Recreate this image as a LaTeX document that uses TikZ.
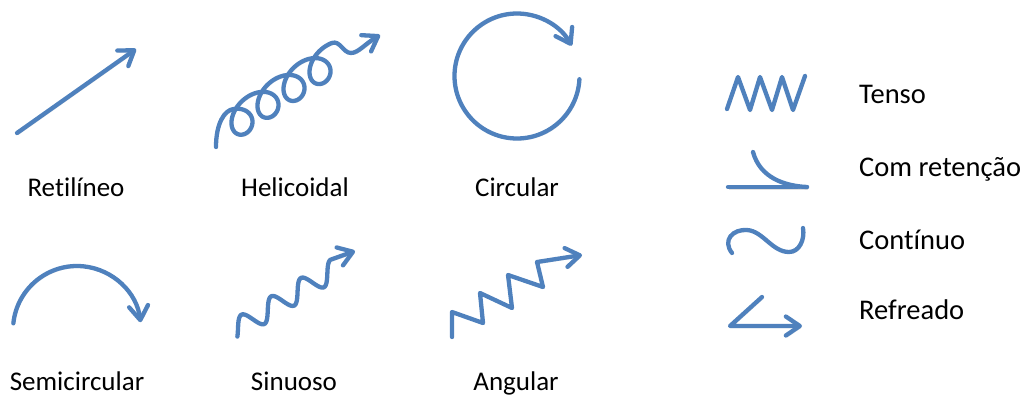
\documentclass[tikz,border=0pt]{standalone}
\usepackage{fontspec}
\setmainfont{Carlito}[Ligatures=NoCommon]
\usetikzlibrary{arrows.meta}
\definecolor{ablue}{RGB}{79,129,189}
\begin{document}
\begin{tikzpicture}[x=1pt,y=-1pt,
  curve/.style={draw=ablue, line width=4.3pt, line cap=round, line join=round,
    preaction={draw=black!12, transform canvas={shift={(1.3pt,-1.8pt)}}}},
  arr/.style={curve, -{Straight Barb[length=14pt,width=19pt,round]}},
  lbl/.style={anchor=base, font=\fontsize{27}{30}\selectfont, inner sep=0pt},
  rlbl/.style={anchor=base west, font=\fontsize{28.5}{32}\selectfont, inner sep=0pt}]
\useasboundingbox (0,0) rectangle (1030,396);
% Retilineo
\coordinate (r0) at (17,133);
\coordinate (r1) at (136,49);
\draw[arr] (r0) -- (r1);
% Helicoidal
\coordinate (h0) at (216,147);
\coordinate (h1) at (351,53);
\coordinate (h2) at (380,35);
\draw[arr] (h0) .. controls (216,124) and (224,110) .. (234,108.9)
  -- plot[domain=-3.1416:21.69, samples=300, variable=\t]
   ({243+4.14*\t-16*sin(\t r)-4*cos(\t r)}, {117.5-2.687*\t+17*cos(\t r)})
  .. controls (340,40) and (343,53) .. (h1) .. controls (358,53) and (365,44) .. (h2);
% Circular
\coordinate (c0) at (517,76);
\draw[arr] (c0) ++(3:62.5) arc[start angle=3, end angle=331, radius=62.5];
% Semicircular
\coordinate (s0) at (77,330);
\draw[arr] (s0) ++(186:64) arc[start angle=186, end angle=353, radius=64];
% Sinuoso
\coordinate (w1) at (355,251);
\draw[arr] plot[domain=-4:113.75, samples=200, variable=\s]
   ({238+0.851*\s-4.2*sin(10.2857*\s)}, {328.5-0.525*\s-9.1*sin(10.2857*\s)}) -- (w1);
% Angular
\coordinate (a0) at (452,337);
\coordinate (a1) at (582,255);
\draw[arr] (a0) -- (452,312) -- (483,323) -- (480,293) -- (512,308) -- (508,275) -- (543,287) -- (537,262) -- (a1);
% Tenso
\coordinate (t0) at (727,109);
\coordinate (t1) at (805,76);
\draw[curve] (t0) -- (738,77) -- (750,110) -- (760,77) -- (772,110) -- (782,77) -- (793,110) -- (t1);
% Com retencao
\coordinate (k0) at (728,187);
\coordinate (k1) at (807,187);
\coordinate (k2) at (753,152);
\draw[curve] (k0) -- (k1);
\draw[curve] (k2) .. controls (760,178) and (785,186) .. (k1);
% Continuo
\coordinate (n0) at (732,253);
\coordinate (n1) at (803,228);
\draw[curve] (n0) .. controls (722,240) and (733,229) .. (747,230)
  .. controls (763,231) and (772,252) .. (789,252) .. controls (799,252) and (805,240) .. (n1);
% Refreado
\coordinate (f0) at (762,297);
\coordinate (f1) at (730,326);
\coordinate (f2) at (802,326);
\draw[arr] (f0) -- (f1) -- (f2);
% Labels
\node[lbl] (L1) at (76,196) {Retilíneo};
\node[lbl] (L2) at (295,196) {Helicoidal};
\node[lbl] (L3) at (517,196) {Circular};
\node[lbl] (L4) at (77,390) {Semicircular};
\node[lbl] (L5) at (294,390) {Sinuoso};
\node[lbl] (L6) at (516,390) {Angular};
\node[rlbl] (R1) at (859,103) {Tenso};
\node[rlbl] (R2) at (859,176) {Com retenção};
\node[rlbl] (R3) at (859,249) {Contínuo};
\node[rlbl] (R4) at (859,319) {Refreado};
\end{tikzpicture}
\end{document}
